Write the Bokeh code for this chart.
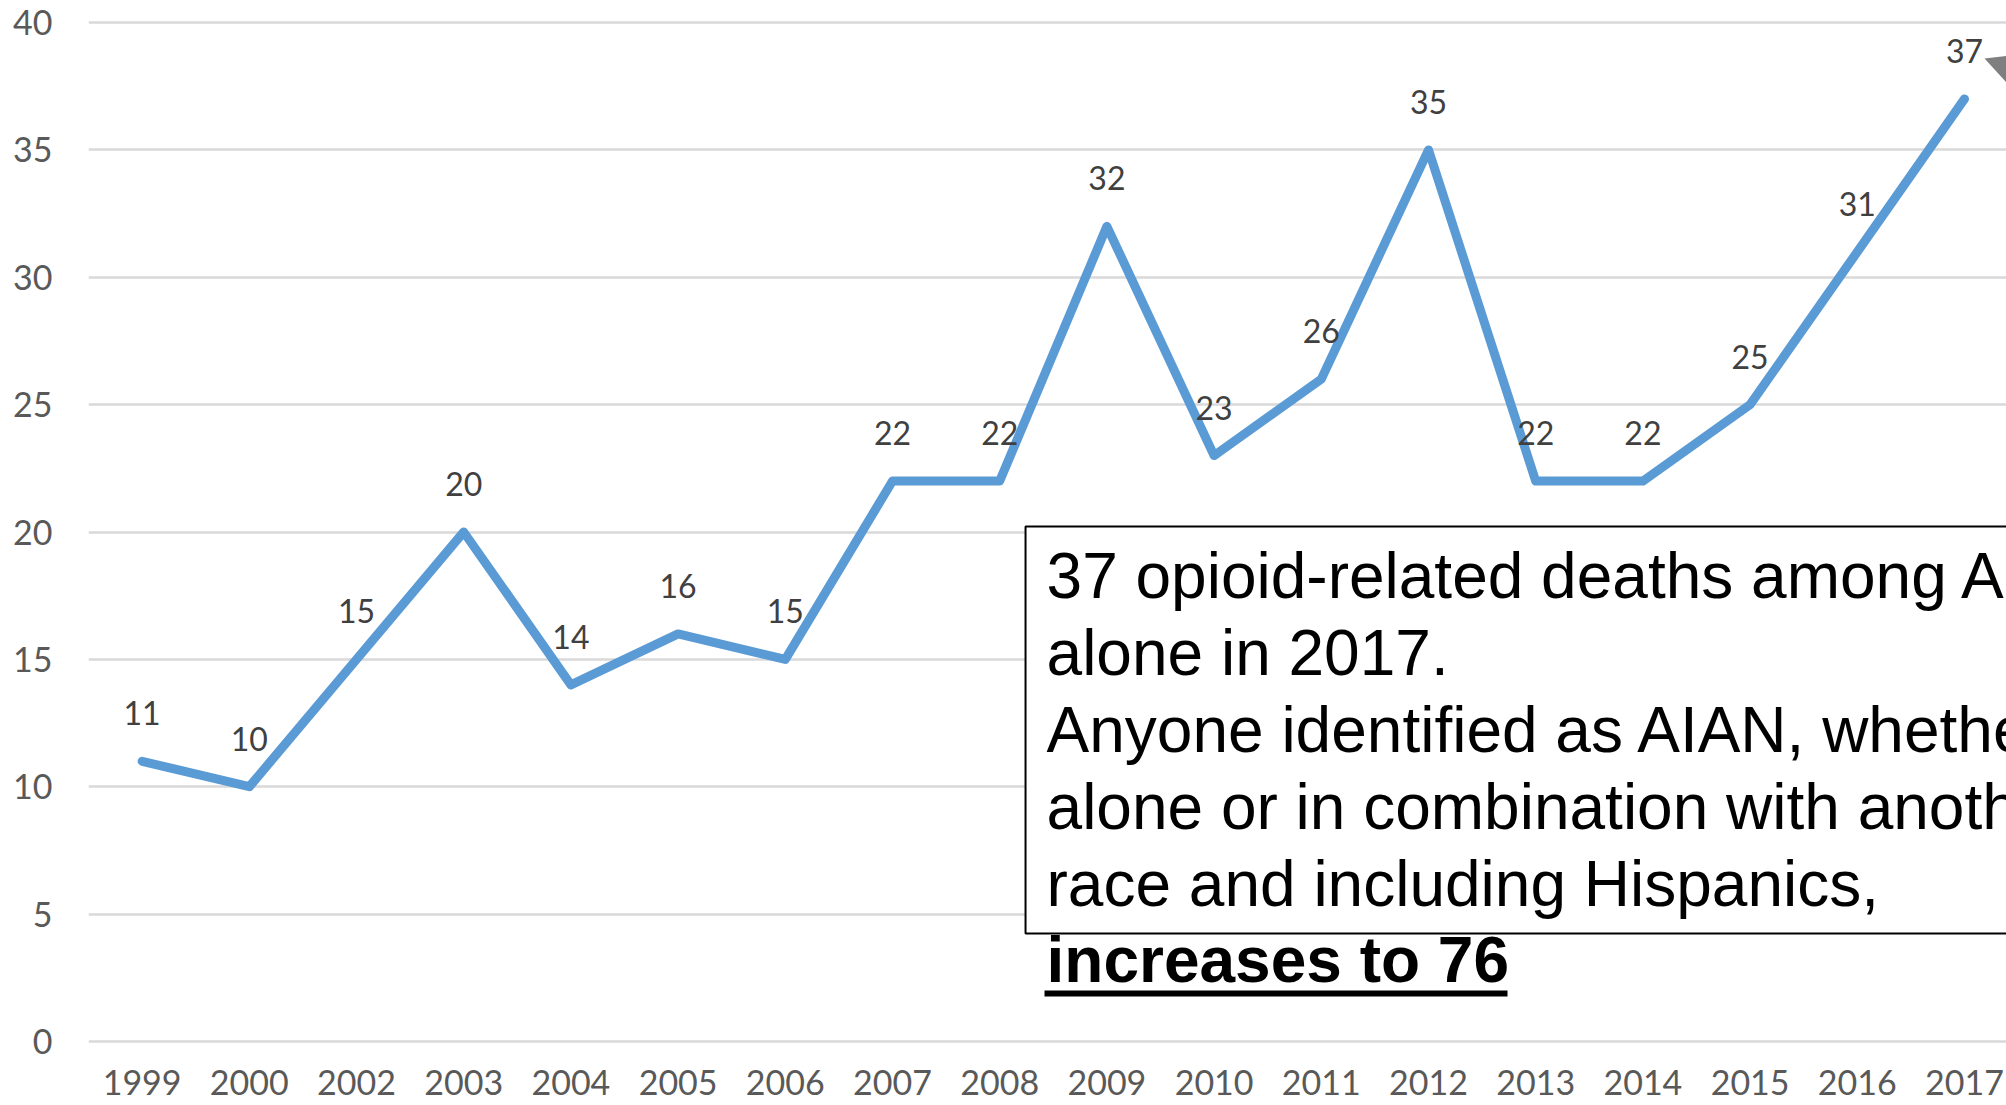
from bokeh.plotting import figure
from bokeh.models import Range1d, FixedTicker
from bokeh.core.properties import value
from bokeh.embed import file_html
from bokeh.resources import INLINE

# ---- data ----
years = ["1999", "2000", "2002", "2003", "2004", "2005", "2006", "2007", "2008",
         "2009", "2010", "2011", "2012", "2013", "2014", "2015", "2016", "2017"]
deaths = [11, 10, 15, 20, 14, 16, 15, 22, 22, 32, 23, 26, 35, 22, 22, 25, 31, 37]
y_ticks = [0, 5, 10, 15, 20, 25, 30, 35, 40]
note_lines = [
    "37 opioid-related deaths among AIAN",
    "alone in 2017.",
    "Anyone identified as AIAN, whether",
    "alone or in combination with another",
    "race and including Hispanics,",
]
note_emphasis = "increases to 76"

idx = list(range(len(years)))

# ---- layout constants ----
W, H = 2006, 1105
LEFT = 88
PX_X = 107.2           # pixels per category
X_END = -0.5 + (W - LEFT) / PX_X

p = figure(width=W, height=H,
           x_range=Range1d(-0.5, X_END), y_range=Range1d(-0.08, 40.08),
           output_backend="svg", toolbar_location=None,
           min_border_left=LEFT, min_border_right=0,
           min_border_top=20, min_border_bottom=62)
p.outline_line_color = None
p.background_fill_color = "white"
p.border_fill_color = "white"

# axes
p.xaxis.ticker = FixedTicker(ticks=idx)
p.xaxis.major_label_overrides = {i: y for i, y in enumerate(years)}
p.yaxis.ticker = FixedTicker(ticks=y_ticks)
for ax in (p.xaxis, p.yaxis):
    ax.axis_line_color = None
    ax.major_tick_line_color = None
    ax.minor_tick_line_color = None
    ax.major_label_text_font = "Lato"
    ax.major_label_text_font_size = "34px"
    ax.major_label_text_color = "#595959"
p.xaxis.major_label_standoff = 20
p.yaxis.major_label_standoff = 30

p.xgrid.visible = False
p.ygrid.grid_line_color = "#d9d9d9"
p.ygrid.grid_line_width = 2.5

# series line
p.line(idx, deaths, line_color="#5b9bd5", line_width=9,
       line_join="round", line_cap="round")

# data labels
p.text(x=idx, y=deaths, text=[str(d) for d in deaths],
       text_font=value("Lato"), text_font_size="32px", text_color="#404040",
       text_align="center", text_baseline="alphabetic", y_offset=-48)

# annotation box
BOX_L, BOX_R, BOX_T, BOX_B = 8.241, 18.5, 20.22, 4.24
p.quad(left=[BOX_L], right=[BOX_R], top=[BOX_T], bottom=[BOX_B],
       fill_color="white", line_color="black", line_width=2)

NOTE_X = 8.437
LINE_H = 76.8
FIRST = 50
p.text(x=[NOTE_X] * len(note_lines), y=[BOX_T] * len(note_lines), text=note_lines,
       y_offset=[FIRST + i * LINE_H for i in range(len(note_lines))],
       text_font=value("Liberation Sans"), text_font_size="64px",
       text_color="black", text_align="left", text_baseline="alphabetic")
p.text(x=[NOTE_X], y=[BOX_T], text=[note_emphasis],
       y_offset=[FIRST + len(note_lines) * LINE_H],
       text_font=value("Liberation Sans"), text_font_size="64px",
       text_font_style="bold",
       text_color="black", text_align="left", text_baseline="alphabetic")
p.segment(x0=[8.418], x1=[12.737], y0=[1.884], y1=[1.884],
          line_color="black", line_width=6)

# arrow head pointing at the 2017 value
p.patch(x=[17.187, 17.588, 17.494], y=[38.59, 38.78, 37.17],
        fill_color="#7f7f7f", line_color=None)

open("out.html", "w").write(file_html(p, INLINE))
